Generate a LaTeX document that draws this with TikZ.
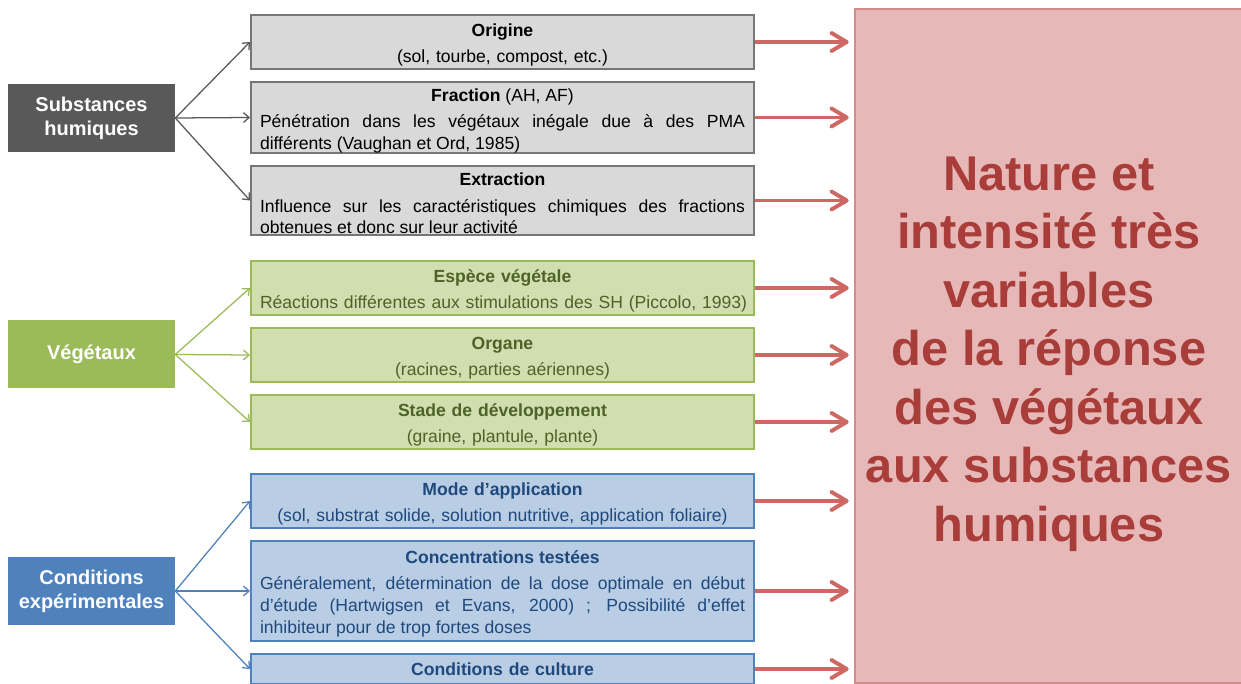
\documentclass[tikz,border=0pt]{standalone}
\usepackage{fontspec}
\setmainfont{Liberation Sans}
\usetikzlibrary{arrows.meta, positioning}

\definecolor{shgray}{HTML}{595959}
\definecolor{shgraylight}{HTML}{D9D9D9}
\definecolor{shgrayline}{HTML}{767676}
\definecolor{vegreen}{HTML}{9BBB59}
\definecolor{vegreenlight}{HTML}{D0DEB0}
\definecolor{vegreentext}{HTML}{4F6228}
\definecolor{coblue}{HTML}{4F81BD}
\definecolor{cobluelight}{HTML}{B9CDE5}
\definecolor{cobluetext}{HTML}{1F497D}
\definecolor{respink}{HTML}{E6B9B8}
\definecolor{respinkline}{HTML}{D38C8A}
\definecolor{restext}{HTML}{A93D3A}
\definecolor{arrowred}{HTML}{CD6865}

\newcommand{\boxtitle}[1]{\noindent\hbox to\linewidth{\hss\rule{0pt}{13.5pt}\bfseries #1\hss}\par\vspace{3pt}}

\begin{document}
\begin{tikzpicture}[
    every node/.style={font=\fontsize{12.5}{15.6}\selectfont},
    catbox/.style={rectangle, minimum width=4.175cm, minimum height=1.7cm, align=center, text=white, font=\fontsize{14.2}{17}\selectfont\bfseries},
    midbox/.style={draw, rectangle, line width=1.4pt, text width=12.125cm, inner xsep=0.225cm, inner ysep=0pt, align=center},
    textbox/.style={midbox, align=justify},
    resbox/.style={draw=respinkline, fill=respink, line width=1pt, minimum width=9.7cm, minimum height=16.85cm},
    restitle/.style={align=center, text=restext, font=\fontsize{34.7}{41.6}\selectfont\bfseries},
    linkarrow/.style={-{Straight Barb[length=4pt,width=7pt]}, line width=0.9pt},
    resarrow/.style={-{Straight Barb[length=11pt,width=13pt,round]}, line width=2.8pt, draw=arrowred, shorten >=4pt}
]
    \useasboundingbox (0,0) rectangle (31.025,-17.1);

    % Substances humiques
    \node (subst) [catbox, fill=shgray] at (2.2875, -2.95) {Substances\\humiques};
    \node (origine) [midbox, fill=shgraylight, draw=shgrayline, minimum height=1.35cm] at (12.5625, -1.05)
        {\boxtitle{Origine}(sol, tourbe, compost, etc.)};
    \node (fraction) [textbox, fill=shgraylight, draw=shgrayline, minimum height=1.725cm] at (12.5625, -2.9375)
        {\boxtitle{Fraction \mdseries(AH, AF)}Pénétration dans les végétaux inégale due à des PMA\linebreak différents (Vaughan et Ord, 1985)};
    \node (extraction) [textbox, fill=shgraylight, draw=shgrayline, minimum height=1.725cm] at (12.5625, -5.0125)
        {\boxtitle{Extraction}Influence sur les caractéristiques chimiques des fractions\linebreak obtenues et donc sur leur activité};

    % Vegetaux
    \node (veget) [catbox, fill=vegreen] at (2.2875, -8.8625) {Végétaux};
    \node (espece) [midbox, fill=vegreenlight, draw=vegreen, text=vegreentext, minimum height=1.35cm] at (12.5625, -7.2)
        {\boxtitle{Espèce végétale}\mbox{Réactions différentes aux stimulations des SH (Piccolo, 1993)}};
    \node (organe) [midbox, fill=vegreenlight, draw=vegreen, text=vegreentext, minimum height=1.35cm] at (12.5625, -8.875)
        {\boxtitle{Organe}(racines, parties aériennes)};
    \node (stade) [midbox, fill=vegreenlight, draw=vegreen, text=vegreentext, minimum height=1.35cm] at (12.5625, -10.55)
        {\boxtitle{Stade de développement}(graine, plantule, plante)};

    % Conditions experimentales
    \node (condexp) [catbox, fill=coblue] at (2.2875, -14.775) {Conditions\\expérimentales};
    \node (mode) [midbox, fill=cobluelight, draw=coblue, text=cobluetext, minimum height=1.35cm] at (12.5625, -12.525)
        {\boxtitle{Mode d’application}(sol, substrat solide, solution nutritive, application foliaire)};
    \node (concent) [textbox, fill=cobluelight, draw=coblue, text=cobluetext, minimum height=2.5cm] at (12.5625, -14.775)
        {\boxtitle{Concentrations testées}Généralement, détermination de la dose optimale en début\linebreak d’étude (Hartwigsen et Evans, 2000) ; Possibilité d’effet\linebreak inhibiteur pour de trop fortes doses};
    \node (culture) [midbox, fill=cobluelight, draw=coblue, text=cobluetext, minimum height=0.75cm] at (12.5625, -16.725)
        {\bfseries Conditions de culture};

    % Resultat
    \node (result) [resbox] at (26.225, -8.65) {};
    \node (restitle) [restitle] at ([yshift=-0.2cm]result.center)
        {Nature et\\intensité très\\variables\\de la réponse\\des végétaux\\aux substances\\humiques};

    % Arrows from categories to factors
    \draw [linkarrow, draw=shgray] (subst.east) -- (origine.west);
    \draw [linkarrow, draw=shgray] (subst.east) -- (fraction.west);
    \draw [linkarrow, draw=shgray] (subst.east) -- (extraction.west);
    \draw [linkarrow, draw=vegreen] (veget.east) -- (espece.west);
    \draw [linkarrow, draw=vegreen] (veget.east) -- (organe.west);
    \draw [linkarrow, draw=vegreen] (veget.east) -- (stade.west);
    \draw [linkarrow, draw=coblue] (condexp.east) -- (mode.west);
    \draw [linkarrow, draw=coblue] (condexp.east) -- (concent.west);
    \draw [linkarrow, draw=coblue] (condexp.east) -- (culture.west);

    % Arrows from factors to result
    \draw [resarrow] (origine.east) -- (origine.east -| result.west);
    \draw [resarrow] (fraction.east) -- (fraction.east -| result.west);
    \draw [resarrow] (extraction.east) -- (extraction.east -| result.west);
    \draw [resarrow] (espece.east) -- (espece.east -| result.west);
    \draw [resarrow] (organe.east) -- (organe.east -| result.west);
    \draw [resarrow] (stade.east) -- (stade.east -| result.west);
    \draw [resarrow] (mode.east) -- (mode.east -| result.west);
    \draw [resarrow] (concent.east) -- (concent.east -| result.west);
    \draw [resarrow] (culture.east) -- (culture.east -| result.west);

\end{tikzpicture}
\end{document}
